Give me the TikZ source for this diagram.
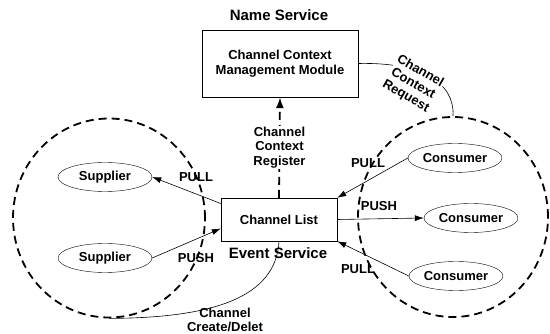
\documentclass[tikz,border=0pt]{standalone}
\usepackage{fontspec}
\setmainfont{Liberation Sans}
\usetikzlibrary{shapes,arrows.meta}

\begin{document}
\begin{tikzpicture}[x=1pt,y=-1pt,
    font=\fontsize{13}{14.5}\selectfont\bfseries,
    block_module/.style ={rectangle, draw=black, fill=white,
      align=center, minimum width=156pt, minimum height=67pt},
    block_list/.style ={rectangle, draw=black, fill=white,
      minimum width=116pt, minimum height=43pt},
    client/.style ={ellipse, draw=black, fill=white, inner sep=0pt,
      minimum width=94pt, minimum height=29pt},
    service_area/.style ={ellipse, draw=black, line width=1.8pt,
      dash pattern=on 8pt off 5pt, minimum width=192pt, minimum height=199pt},
    line/.style ={draw, line width=0.6pt, -{Latex[length=9pt,width=6pt]}},
    dash_line/.style ={draw, line width=1.8pt, dash pattern=on 8pt off 5pt,
      -{Latex[length=11pt,width=8pt]}},
    block_noborder/.style ={rectangle, draw=none, fill=none, inner sep=1pt, align=center},
    service_title/.style ={block_noborder, font=\fontsize{15}{17}\selectfont\bfseries}]
    \useasboundingbox (0,0) rectangle (550,334);
    % the two service areas
    \node [service_area] (left_area) at (109,218) {};
    \node [service_area, minimum width=190pt, minimum height=200pt] (right_area) at (453,217) {};
    % name service
    \node [service_title] (name_service) at (279,15) {Name Service};
    \node [block_module] (module) at (280,63.5) {Channel Context\\Management Module};
    % event service
    \node [block_list] (list) at (279,219.5) {Channel List};
    % suppliers
    \node [client] (sup_pull) at (105,177) {Supplier};
    \node [client] (sup_push) at (105,258) {Supplier};
    % consumers
    \node [client] (con_top) at (455,158) {Consumer};
    \node [client] (con_mid) at (471,218) {Consumer};
    \node [client] (con_bottom) at (456,276) {Consumer};
    % connecting nodes with paths
    \begin{scope}[every path/.style=line]
      \path ([yshift=16pt]list.west) -- (sup_pull.east);
      \path (sup_push.east) -- ([yshift=-9pt]list.west);
      \path (con_top.west) -- (list.north east);
      \path (list.east) -- (con_mid.west);
      \path (con_bottom.west) -- (list.south east);
    \end{scope}
    \path [dash_line] (list.north) -- node [block_noborder, fill=white] (register)
      {Channel\\Context\\Register} (module.south);
    \draw [line width=0.6pt] (module.east) .. controls (420,62) and (455,82) .. (right_area.north);
    \draw [line width=0.6pt] (list.south) .. controls (276,298) and (212,318) .. (left_area.south);
    \node [service_title] (event_service) at (278,253) {Event Service};
    \node [block_noborder, fill=white, rotate=-30] (request) at (413,84) {Channel\\Context\\Request};
    \node [block_noborder] (create) at (225,320) {Channel\\Create/Delet};
    % arrow labels
    \node [block_noborder] (pull_left) at (196,177) {PULL};
    \node [block_noborder] (push_left) at (196,258) {PUSH};
    \node [block_noborder] (pull_top) at (368,163) {PULL};
    \node [block_noborder] (push_right) at (379,206) {PUSH};
    \node [block_noborder] (pull_bottom) at (358,269) {PULL};
\end{tikzpicture}
\end{document}
